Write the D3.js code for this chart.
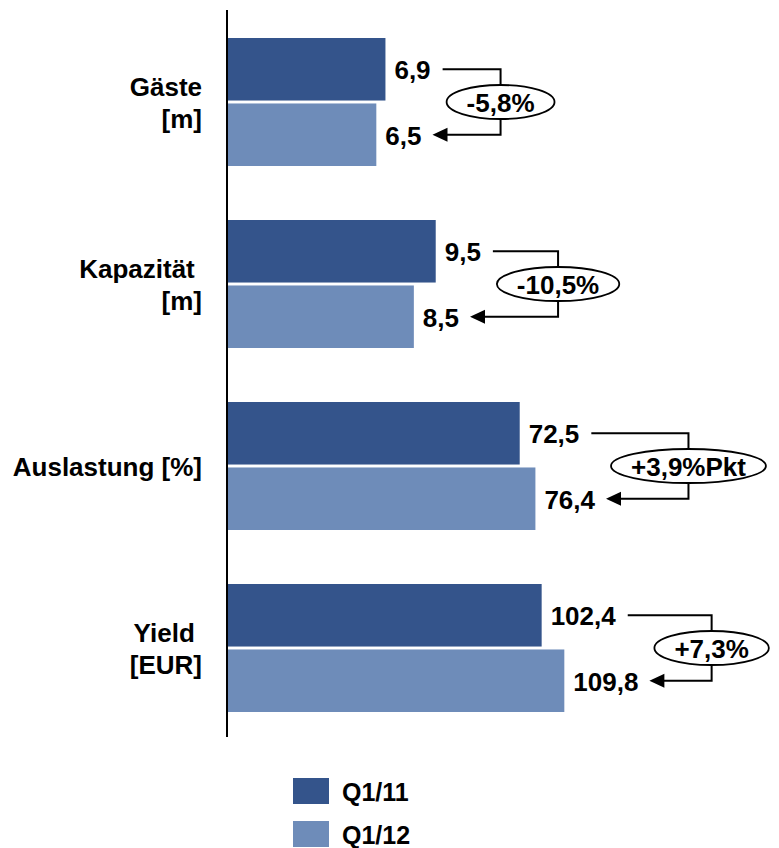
<!DOCTYPE html>
<html>
<head>
<meta charset="utf-8">
<script src="https://cdn.jsdelivr.net/npm/d3@7"></script>
<style>
  html, body { margin: 0; padding: 0; background: #ffffff; }
  svg { display: block; }
  text { font-family: "Liberation Sans", Arial, sans-serif; font-weight: bold; fill: #000; }
</style>
</head>
<body>
<svg id="chart" width="779" height="848"></svg>
<script>
// ---- data ----
const categories = ["Gäste", "Kapazität", "Auslastung", "Yield"];
const categoryLabels = [["Gäste", "[m]"], ["Kapazität\u00A0", "[m]"], ["Auslastung [%]"], ["Yield\u00A0", "[EUR]"]];
const seriesNames = ["Q1/11", "Q1/12"];
const q1_11 = [6.9, 9.5, 72.5, 102.4];
const q1_12 = [6.5, 8.5, 76.4, 109.8];
const changeLabels = ["-5,8%", "-10,5%", "+3,9%Pkt", "+7,3%"];
const scaleMax = [14.9, 15.55, 84.5, 111.0];   // each category has its own value scale
const fmt = v => d3.format(".1f")(v).replace(".", ",");

// ---- layout ----
const colors = ["#34548b", "#6e8cb9"];
const fs = 26;
const x0 = 228, barSpan = 340;
const svg = d3.select("#chart");

const y = d3.scaleBand().domain(categories).range([38, 712]).paddingInner(0.2967).paddingOuter(0);
const ySub = d3.scaleBand().domain(seriesNames).range([0, y.bandwidth()]).paddingInner(0.045);
const xScales = scaleMax.map(m => d3.scaleLinear().domain([0, m]).range([x0, x0 + barSpan]));

const color = d3.scaleOrdinal().domain(seriesNames).range(colors);

const rows = categories.map((c, i) => ({
  cat: c, i, lines: categoryLabels[i], change: changeLabels[i],
  vals: [{s: seriesNames[0], v: q1_11[i]}, {s: seriesNames[1], v: q1_12[i]}]
}));

// axis line
svg.append("line")
  .attr("x1", x0 - 1).attr("x2", x0 - 1)
  .attr("y1", 10).attr("y2", 737)
  .attr("stroke", "#000").attr("stroke-width", 2);

const g = svg.selectAll("g.cat").data(rows).join("g").attr("class", "cat");

g.each(function(r) {
  const gg = d3.select(this);
  const xs = xScales[r.i];
  const top = y(r.cat);
  const ends = [];
  r.vals.forEach(d => {
    gg.append("rect")
      .attr("x", xs(0))
      .attr("y", top + ySub(d.s))
      .attr("width", xs(d.v) - xs(0))
      .attr("height", ySub.bandwidth())
      .attr("fill", color(d.s));
    const cy = top + ySub(d.s) + ySub.bandwidth() / 2;
    const t = gg.append("text")
      .attr("x", xs(d.v) + 9)
      .attr("y", cy + 10)
      .attr("font-size", fs)
      .text(fmt(d.v));
    ends.push({end: xs(d.v) + 9 + t.node().getComputedTextLength(), cy});
  });

  // category label
  const bc = top + y.bandwidth() / 2;
  const n = r.lines.length;
  r.lines.forEach((ln, k) => {
    gg.append("text")
      .attr("x", 202)
      .attr("y", bc + 10 + (k - (n - 1) / 2) * 32)
      .attr("text-anchor", "end")
      .attr("font-size", fs)
      .text(ln);
  });

  // change annotation
  const tmp = gg.append("text").attr("font-size", fs).text(r.change);
  const tw = tmp.node().getComputedTextLength();
  tmp.remove();
  const rx = tw / 2 + 20, ry = 17;
  const maxEnd = Math.max(ends[0].end, ends[1].end);
  const cx = maxEnd + 16 + rx;
  const ecy = (ends[0].cy + ends[1].cy) / 2;
  const tipX = ends[1].end + 11, headLen = 15, headH = 7;

  gg.append("path")
    .attr("d", `M${ends[0].end + 12},${ends[0].cy}H${cx}V${ecy - ry}`)
    .attr("fill", "none").attr("stroke", "#000").attr("stroke-width", 2);
  gg.append("path")
    .attr("d", `M${cx},${ecy + ry}V${ends[1].cy}H${tipX + headLen - 1}`)
    .attr("fill", "none").attr("stroke", "#000").attr("stroke-width", 2);
  gg.append("path")
    .attr("d", `M${tipX},${ends[1].cy}L${tipX + headLen},${ends[1].cy - headH}L${tipX + headLen},${ends[1].cy + headH}Z`)
    .attr("fill", "#000");
  gg.append("ellipse")
    .attr("cx", cx).attr("cy", ecy).attr("rx", rx).attr("ry", ry)
    .attr("fill", "#fff").attr("stroke", "#000").attr("stroke-width", 1.8);
  gg.append("text")
    .attr("x", cx).attr("y", ecy + 10)
    .attr("text-anchor", "middle")
    .attr("font-size", fs)
    .text(r.change);
});

// legend
const leg = svg.selectAll("g.leg").data(seriesNames).join("g").attr("class", "leg")
  .attr("transform", (d, i) => `translate(293, ${778 + i * 43})`);
leg.append("rect").attr("width", 36).attr("height", 26).attr("fill", d => color(d));
leg.append("text").attr("x", 49).attr("y", 13 + 9.5).attr("font-size", 25).text(d => d);
</script>
</body>
</html>
